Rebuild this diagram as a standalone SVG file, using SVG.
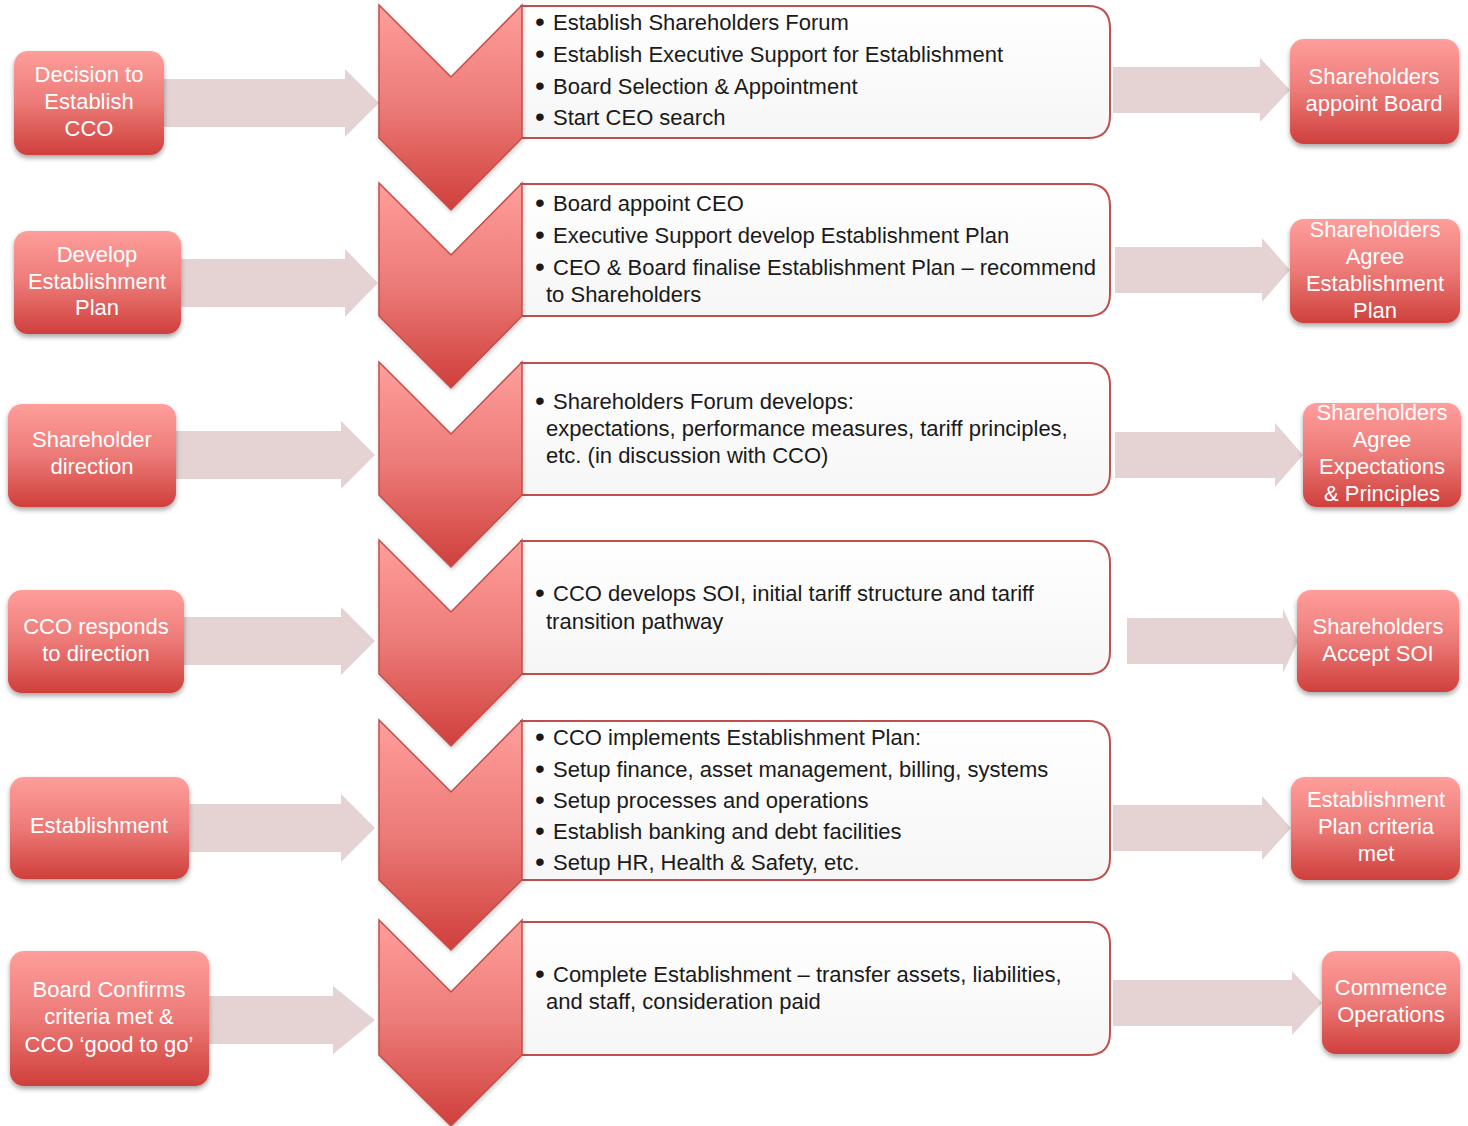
<svg xmlns="http://www.w3.org/2000/svg" width="1468" height="1126" viewBox="0 0 1468 1126">
<defs>
<linearGradient id="red" x1="0" y1="0" x2="0" y2="1">
<stop offset="0" stop-color="#FF9E9B"/>
<stop offset="0.5" stop-color="#EC7A77"/>
<stop offset="1" stop-color="#CF3F3B"/>
</linearGradient>
<linearGradient id="white" x1="0" y1="0" x2="0" y2="1">
<stop offset="0" stop-color="#FFFFFF"/>
<stop offset="1" stop-color="#F6F6F6"/>
</linearGradient>
<filter id="sh" x="-10%" y="-10%" width="120%" height="130%">
<feDropShadow dx="0" dy="3" stdDeviation="2.5" flood-color="#000" flood-opacity="0.35"/>
</filter>
<filter id="sh2" x="-10%" y="-10%" width="120%" height="130%">
<feDropShadow dx="1" dy="2" stdDeviation="2" flood-color="#000" flood-opacity="0.2"/>
</filter>
</defs>
<style>
.box{fill:url(#red);filter:url(#sh)}
.lbl{font-family:"Liberation Sans",Arial,sans-serif;font-size:22px;fill:#FFFFFF;text-anchor:middle}
.arrow{fill:#E5D2D2}
.chev{fill:url(#red);stroke:#C0504D;stroke-width:1.5;filter:url(#sh2)}
.panel{fill:url(#white);stroke:#C0504D;stroke-width:2}
.txt{font-family:"Liberation Sans",Arial,sans-serif;font-size:22px;fill:#1A1A1A}
.b{font-size:28px}
</style>

<g id="connectors">
<polygon class="arrow" points="164,79 345,79 345,69 379,103 345,137 345,127 164,127"/>
<polygon class="arrow" points="181,259 345,259 345,249 378,283 345,317 345,307 181,307"/>
<polygon class="arrow" points="176,431 341,431 341,421 375,455 341,489 341,479 176,479"/>
<polygon class="arrow" points="184,617 341,617 341,607 375,641 341,675 341,665 184,665"/>
<polygon class="arrow" points="189,804 341,804 341,794 375,828 341,862 341,852 189,852"/>
<polygon class="arrow" points="209,996 333,996 333,986 375,1020 333,1054 333,1044 209,1044"/>
<polygon class="arrow" points="1113,67 1260,67 1260,58 1290,90 1260,122 1260,113 1113,113"/>
<polygon class="arrow" points="1115,247 1262,247 1262,238 1290,270 1262,302 1262,293 1115,293"/>
<polygon class="arrow" points="1115,432 1275,432 1275,423 1303,455 1275,487 1275,478 1115,478"/>
<polygon class="arrow" points="1127,618 1283,618 1283,609 1298,641 1283,673 1283,664 1127,664"/>
<polygon class="arrow" points="1113,805 1262,805 1262,796 1291,828 1262,860 1262,851 1113,851"/>
<polygon class="arrow" points="1113,980 1292,980 1292,971 1322,1003 1292,1035 1292,1026 1113,1026"/>
</g>

<g id="left1"><rect class="box" x="14" y="51" width="150" height="104" rx="14"/>
<text class="lbl"><tspan x="89" y="82">Decision to</tspan><tspan x="89" y="109">Establish</tspan><tspan x="89" y="136">CCO</tspan></text></g>
<g id="left2"><rect class="box" x="14" y="231" width="167" height="103" rx="14"/>
<text class="lbl"><tspan x="97" y="262">Develop</tspan><tspan x="97" y="289">Establishment</tspan><tspan x="97" y="315">Plan</tspan></text></g>
<g id="left3"><rect class="box" x="8" y="404" width="168" height="103" rx="14"/>
<text class="lbl"><tspan x="92" y="447">Shareholder</tspan><tspan x="92" y="474">direction</tspan></text></g>
<g id="left4"><rect class="box" x="8" y="590" width="176" height="103" rx="14"/>
<text class="lbl"><tspan x="96" y="634">CCO responds</tspan><tspan x="96" y="661">to direction</tspan></text></g>
<g id="left5"><rect class="box" x="10" y="777" width="179" height="102" rx="14"/>
<text class="lbl"><tspan x="99" y="833">Establishment</tspan></text></g>
<g id="left6"><rect class="box" x="10" y="951" width="199" height="135" rx="14"/>
<text class="lbl"><tspan x="109" y="997">Board Confirms</tspan><tspan x="109" y="1024">criteria met &amp;</tspan><tspan x="109" y="1052">CCO ‘good to go’</tspan></text></g>

<g id="step1">
<path class="panel" d="M521,6 H1088 Q1110,6 1110,28 V116 Q1110,138 1088,138 H521 Z"/>
<polygon class="chev" points="379,5 451,77 522,5 522,138 451,210 379,138"/>
<text class="txt"><tspan class="b" x="535" y="31">•</tspan><tspan x="553" y="30">Establish Shareholders Forum</tspan><tspan class="b" x="535" y="63">•</tspan><tspan x="553" y="62">Establish Executive Support for Establishment</tspan><tspan class="b" x="535" y="95">•</tspan><tspan x="553" y="94">Board Selection &amp; Appointment</tspan><tspan class="b" x="535" y="126">•</tspan><tspan x="553" y="125">Start CEO search</tspan></text>
</g>
<g id="step2">
<path class="panel" d="M521,184 H1088 Q1110,184 1110,206 V294 Q1110,316 1088,316 H521 Z"/>
<polygon class="chev" points="379,183 451,255 522,183 522,316 451,388 379,316"/>
<text class="txt"><tspan class="b" x="535" y="212">•</tspan><tspan x="553" y="211">Board appoint CEO</tspan><tspan class="b" x="535" y="244">•</tspan><tspan x="553" y="243">Executive Support develop Establishment Plan</tspan><tspan class="b" x="535" y="276">•</tspan><tspan x="553" y="275">CEO &amp; Board finalise Establishment Plan – recommend</tspan><tspan x="546" y="302">to Shareholders</tspan></text>
</g>
<g id="step3">
<path class="panel" d="M521,363 H1088 Q1110,363 1110,385 V473 Q1110,495 1088,495 H521 Z"/>
<polygon class="chev" points="379,362 451,434 522,362 522,495 451,567 379,495"/>
<text class="txt"><tspan class="b" x="535" y="410">•</tspan><tspan x="553" y="409">Shareholders Forum develops:</tspan><tspan x="546" y="436">expectations, performance measures, tariff principles,</tspan><tspan x="546" y="463">etc. (in discussion with CCO)</tspan></text>
</g>
<g id="step4">
<path class="panel" d="M521,541 H1088 Q1110,541 1110,563 V652 Q1110,674 1088,674 H521 Z"/>
<polygon class="chev" points="379,540 451,612 522,540 522,674 451,746 379,674"/>
<text class="txt"><tspan class="b" x="535" y="602">•</tspan><tspan x="553" y="601">CCO develops SOI, initial tariff structure and tariff</tspan><tspan x="546" y="629">transition pathway</tspan></text>
</g>
<g id="step5">
<path class="panel" d="M521,721 H1088 Q1110,721 1110,743 V858 Q1110,880 1088,880 H521 Z"/>
<polygon class="chev" points="379,720 451,792 522,720 522,880 451,950 379,880"/>
<text class="txt"><tspan class="b" x="535" y="746">•</tspan><tspan x="553" y="745">CCO implements Establishment Plan:</tspan><tspan class="b" x="535" y="778">•</tspan><tspan x="553" y="777">Setup finance, asset management, billing, systems</tspan><tspan class="b" x="535" y="809">•</tspan><tspan x="553" y="808">Setup processes and operations</tspan><tspan class="b" x="535" y="840">•</tspan><tspan x="553" y="839">Establish banking and debt facilities</tspan><tspan class="b" x="535" y="871">•</tspan><tspan x="553" y="870">Setup HR, Health &amp; Safety, etc.</tspan></text>
</g>
<g id="step6">
<path class="panel" d="M521,922 H1088 Q1110,922 1110,944 V1033 Q1110,1055 1088,1055 H521 Z"/>
<polygon class="chev" points="379,920 451,992 522,920 522,1055 451,1126 379,1055"/>
<text class="txt"><tspan class="b" x="535" y="983">•</tspan><tspan x="553" y="982">Complete Establishment – transfer assets, liabilities,</tspan><tspan x="546" y="1009">and staff, consideration paid</tspan></text>
</g>

<g id="right1"><rect class="box" x="1290" y="39" width="169" height="105" rx="14"/>
<text class="lbl"><tspan x="1374" y="84">Shareholders</tspan><tspan x="1374" y="111">appoint Board</tspan></text></g>
<g id="right2"><rect class="box" x="1290" y="219" width="170" height="104" rx="14"/>
<text class="lbl"><tspan x="1375" y="237">Shareholders</tspan><tspan x="1375" y="264">Agree</tspan><tspan x="1375" y="291">Establishment</tspan><tspan x="1375" y="318">Plan</tspan></text></g>
<g id="right3"><rect class="box" x="1303" y="403" width="158" height="104" rx="14"/>
<text class="lbl"><tspan x="1382" y="420">Shareholders</tspan><tspan x="1382" y="447">Agree</tspan><tspan x="1382" y="474">Expectations</tspan><tspan x="1382" y="501">&amp; Principles</tspan></text></g>
<g id="right4"><rect class="box" x="1297" y="590" width="162" height="102" rx="14"/>
<text class="lbl"><tspan x="1378" y="634">Shareholders</tspan><tspan x="1378" y="661">Accept SOI</tspan></text></g>
<g id="right5"><rect class="box" x="1291" y="777" width="169" height="103" rx="14"/>
<text class="lbl"><tspan x="1376" y="807">Establishment</tspan><tspan x="1376" y="834">Plan criteria</tspan><tspan x="1376" y="861">met</tspan></text></g>
<g id="right6"><rect class="box" x="1322" y="951" width="138" height="103" rx="14"/>
<text class="lbl"><tspan x="1391" y="995">Commence</tspan><tspan x="1391" y="1022">Operations</tspan></text></g>
</svg>
